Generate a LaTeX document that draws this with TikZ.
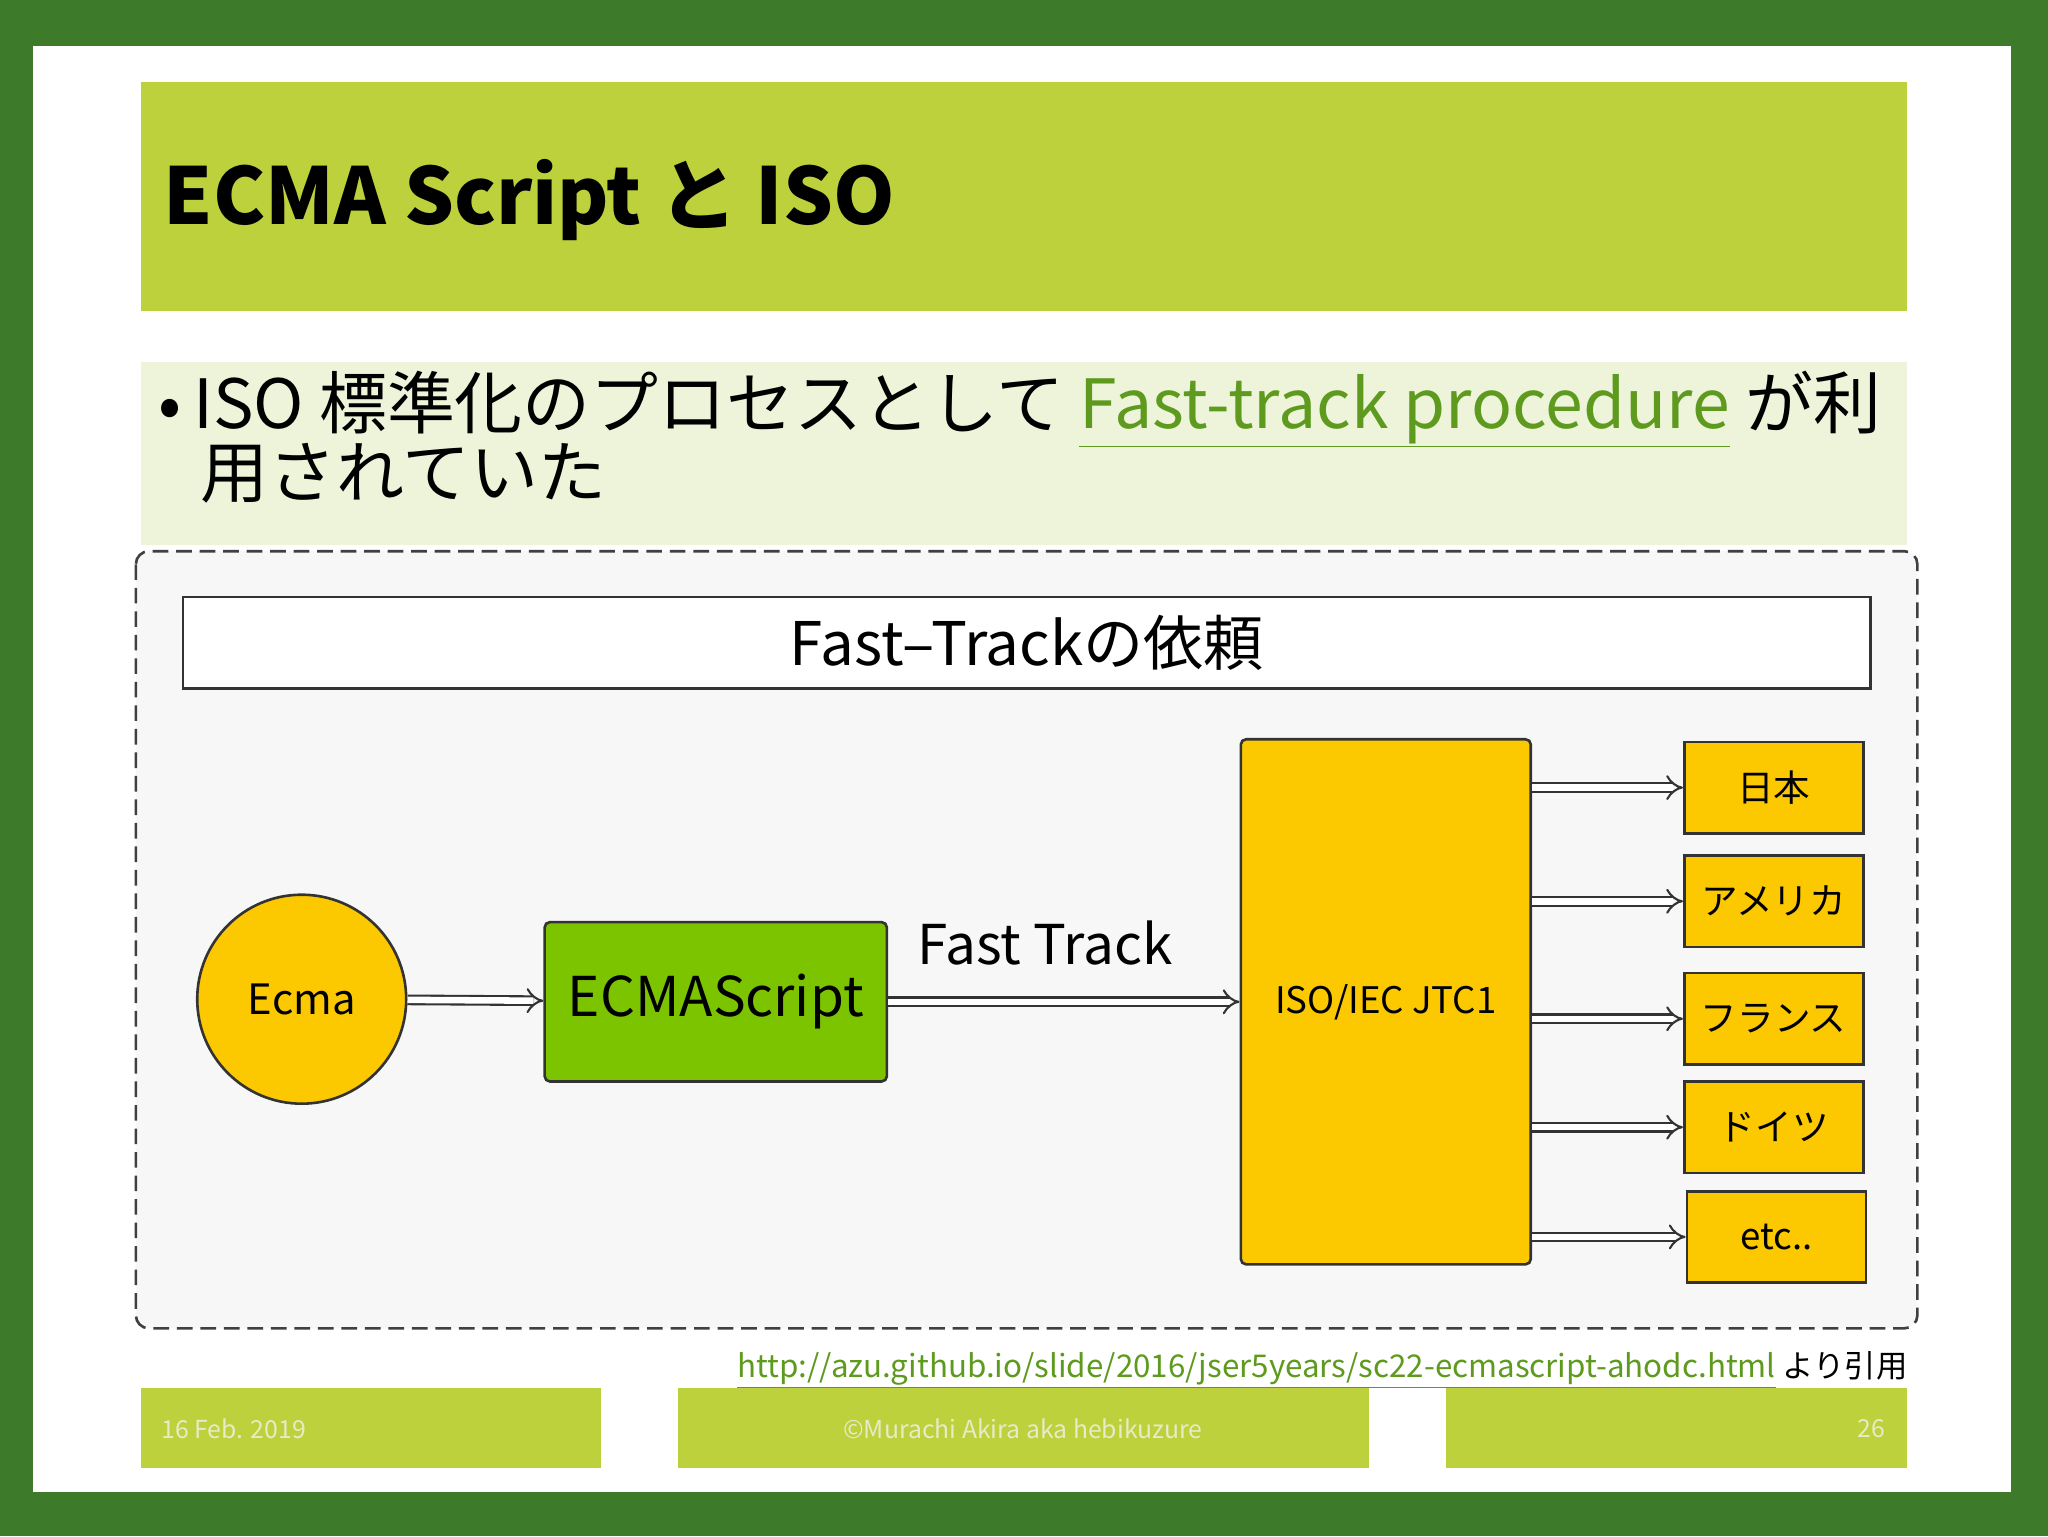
\documentclass[tikz,border=0pt]{standalone}
\usepackage{fontspec}
\setmainfont{Noto Sans CJK JP}
\usetikzlibrary{arrows.meta}
\definecolor{frame}{HTML}{3D7A2A}
\definecolor{lime}{HTML}{BDD13C}
\definecolor{pale}{HTML}{EEF4D9}
\definecolor{yel}{HTML}{FCC800}
\definecolor{grn}{HTML}{7CC400}
\definecolor{link}{HTML}{5E9A1E}
\definecolor{ftxt}{HTML}{E6EBC8}
\newcommand{\fs}[1]{\fontsize{#1}{#1}\selectfont}
\begin{document}
\begin{tikzpicture}[x=1pt,y=-1pt,
  box/.style={draw=black!80,line width=2pt,rounded corners=4pt,fill=yel},
  sbox/.style={draw=black!80,line width=2pt,fill=yel,minimum width=137pt,minimum height=70pt,font=\fs{28}},
  arr/.style={double,double distance=5pt,line width=1.6pt,-{Implies[length=14pt,width=28pt]},black!80},
  foot/.style={fill=lime,font=\fs{19},text=white!80!lime}]
\useasboundingbox (0,0) rectangle (1568,1176);
\fill[frame] (0,0) rectangle (1568,1176);
\fill[white] (25,35) rectangle (1540,1142);
\fill[lime] (108,63) rectangle (1460,238);
\node[anchor=base west,font=\fs{60}\bfseries] (title) at (122,172) {ECMA Script と ISO};
\fill[pale] (108,277) rectangle (1460,417);
\node[anchor=base west,font=\fs{52}] (b1) at (118,328) {•\,ISO 標準化のプロセスとして \textcolor{link}{\underline{Fast-track procedure}} が利};
\node[anchor=base west,font=\fs{52}] (b2) at (150,381) {用されていた};
\draw[dash pattern=on 12pt off 6pt,line width=2pt,black!75,fill=black!3,rounded corners=10pt] (104,422) rectangle (1468,1017);
\node[draw=black!80,line width=2pt,fill=white,minimum width=1292pt,minimum height=70pt,font=\fs{46}] (hdr) at (786,492) {Fast–Trackの依頼};
\node[circle,draw=black!80,line width=2pt,fill=yel,minimum size=160pt,font=\fs{32}] (ecma) at (231,765) {Ecma};
\node[box,fill=grn,minimum width=262pt,minimum height=122pt,font=\fs{42}] (es) at (548,767) {ECMAScript};
\node[box,minimum width=222pt,minimum height=402pt,font=\fs{28}] (iso) at (1061,767) {ISO/IEC JTC1};
\node[font=\fs{42}] (ft) at (800,722) {Fast Track};
\node[sbox] (jp) at (1358,603) {日本};
\node[sbox] (us) at (1358,690) {アメリカ};
\node[sbox] (fr) at (1358,780) {フランス};
\node[sbox] (de) at (1358,863) {ドイツ};
\node[sbox] (etc) at (1360,947) {etc..};
\draw[arr] (ecma) -- (es);
\draw[arr] (es) -- (iso.west|-es);
\foreach \n in {jp,us,fr,de,etc} \draw[arr] (iso.east|-\n) -- (\n);
\node[anchor=base east,font=\fs{24}] (url) at (1464,1055) {\textcolor{link}{\underline{http://azu.github.io/slide/2016/jser5years/sc22-ecmascript-ahodc.html}} より引用};
\fill[lime] (108,1063) rectangle (460,1124);
\fill[lime] (519,1063) rectangle (1048,1124);
\fill[lime] (1107,1063) rectangle (1460,1124);
\node[anchor=west,font=\fs{19},text=ftxt] (d) at (120,1094) {16 Feb. 2019};
\node[font=\fs{19},text=ftxt] (c) at (783,1094) {©Murachi Akira aka hebikuzure};
\node[anchor=east,font=\fs{19},text=ftxt] (p) at (1447,1094) {26};
\end{tikzpicture}
\end{document}
